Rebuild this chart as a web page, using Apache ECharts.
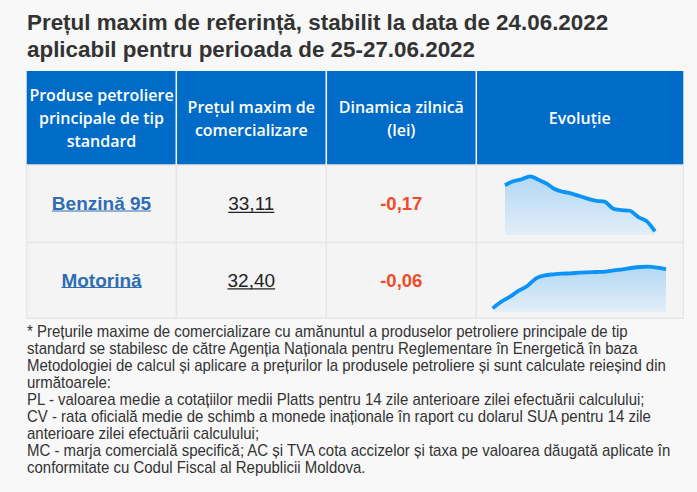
<!DOCTYPE html>
<html><head><meta charset="utf-8">
<script src="https://cdn.jsdelivr.net/npm/echarts@6/dist/echarts.min.js"></script>
<style>html,body{margin:0;padding:0;background:#f8f8f8}#c{width:697px;height:492px}</style>
</head><body><div id="c"></div><script>
// ---- data ----
const titleLines = ['Prețul maxim de referință, stabilit la data de 24.06.2022', 'aplicabil pentru perioada de 25-27.06.2022'];
const headerCols = [
  ['Produse petroliere', 'principale de tip', 'standard'],
  ['Prețul maxim de', 'comercializare'],
  ['Dinamica zilnică', '(lei)'],
  ['Evoluție']
];
const products = ['Benzină 95', 'Motorină'];
const prices = ['33,11', '32,40'];
const dynamics = ['-0,17', '-0,06'];
const benzinaDays = ['d1','d2','d3','d4','d5','d6','d7','d8','d9','d10','d11','d12','d13','d14','d15','d16','d17','d18','d19'];
const benzinaValues = [34.50,34.62,34.68,34.77,34.67,34.55,34.38,34.30,34.25,34.17,34.09,34.03,34.00,33.79,33.75,33.73,33.54,33.42,33.11];
const motorinaDays = ['d1','d2','d3','d4','d5','d6','d7','d8','d9','d10','d11','d12','d13','d14','d15','d16','d17','d18','d19','d20','d21'];
const motorinaValues = [31.22,31.42,31.57,31.75,31.89,32.12,32.21,32.24,32.26,32.27,32.29,32.30,32.31,32.32,32.36,32.39,32.43,32.46,32.47,32.44,32.40];
const footnoteLines = [
  '* Prețurile maxime de comercializare cu amănuntul a produselor petroliere principale de tip',
  'standard se stabilesc de către Agenția Naționala pentru Reglementare în Energetică în baza',
  'Metodologiei de calcul și aplicare a prețurilor la produsele petroliere și sunt calculate reieșind din',
  'următoarele:',
  'PL - valoarea medie a cotațiilor medii Platts pentru 14 zile anterioare zilei efectuării calculului;',
  'CV - rata oficială medie de schimb a monede inaționale în raport cu dolarul SUA pentru 14 zile',
  'anterioare zilei efectuării calculului;',
  'MC - marja comercială specifică; AC și TVA cota accizelor și taxa pe valoarea dăugată aplicate în',
  'conformitate cu Codul Fiscal al Republicii Moldova.'
];

// ---- layout ----
const SANS = '"Liberation Sans", Arial, sans-serif';
const OPEN = '"Open Sans", sans-serif';
const tL = 26.7, tR = 683.3, hTop = 71, hBot = 165, rowDiv = 242.5, tBot = 318.3;
const colX = [tL, 176.3, 326.3, 476.3, tR];
const colC = [0,1,2,3].map(i => (colX[i] + colX[i+1]) / 2);
const rowC = [203.5, 280];

const mctx = document.createElement('canvas').getContext('2d');
function textW(t, font) { mctx.font = font; return mctx.measureText(t).width; }

const g = [];
g.push({type:'rect', z:0, shape:{x:0,y:0,width:697,height:492}, style:{fill:'#f8f8f8'}});
titleLines.forEach((t, i) => g.push({type:'text', z:5, style:{text:t, x:27, y:22 + i*27, font:'bold 22.4px ' + SANS, fill:'#333333', verticalAlign:'middle'}}));
// header
g.push({type:'rect', z:0, shape:{x:tL, y:hTop, width:tR-tL, height:hBot-hTop}, style:{fill:'#006cc8'}});
// body
g.push({type:'rect', z:0, shape:{x:tL, y:hBot, width:tR-tL, height:tBot-hBot}, style:{fill:'#f4f4f4', stroke:'#e6e6e6', lineWidth:1.5}});
g.push({type:'line', z:1, shape:{x1:tL, y1:rowDiv, x2:tR, y2:rowDiv}, style:{stroke:'#e6e6e6', lineWidth:1.5}});
[1,2,3].forEach(i => {
  g.push({type:'line', z:1, shape:{x1:colX[i], y1:hTop, x2:colX[i], y2:hBot}, style:{stroke:'#ffffff', lineWidth:1.5}});
  g.push({type:'line', z:1, shape:{x1:colX[i], y1:hBot, x2:colX[i], y2:tBot}, style:{stroke:'#e6e6e6', lineWidth:1.5}});
});
const hMid = 118, hLH = 23;
headerCols.forEach((lines, c) => {
  const y0 = hMid - (lines.length - 1) * hLH / 2;
  lines.forEach((t, k) => g.push({type:'text', z:5, style:{text:t, x:colC[c], y:y0 + k*hLH, font:'600 16px ' + OPEN, fill:'#ffffff', align:'center', verticalAlign:'middle'}}));
});
function underlined(t, x, y, font, color, uy) {
  const w = textW(t, font);
  g.push({type:'text', z:5, style:{text:t, x:x, y:y, font:font, fill:color, align:'center', verticalAlign:'middle'}});
  g.push({type:'line', z:5, shape:{x1:x - w/2, y1:uy, x2:x + w/2, y2:uy}, style:{stroke:color, lineWidth:1.2}});
}
products.forEach((p, r) => underlined(p, colC[0], rowC[r], 'bold 19px ' + SANS, '#2f6db5', rowC[r] + 7.5));
prices.forEach((p, r) => underlined(p, colC[1], rowC[r], '19px ' + SANS, '#222222', rowC[r] + 8.8));
dynamics.forEach((d, r) => g.push({type:'text', z:5, style:{text:d, x:colC[2], y:rowC[r], font:'bold 18.5px ' + SANS, fill:'#f04a26', align:'center', verticalAlign:'middle'}}));
footnoteLines.forEach((t, i) => g.push({type:'text', z:5, x:27, y:331 + i*17.1, scaleX:0.936, style:{text:t, x:0, y:0, font:'16px ' + SANS, fill:'#333333', verticalAlign:'middle'}}));

const area = {color:{type:'linear', x:0, y:0, x2:0, y2:1, colorStops:[{offset:0, color:'#96cbf5'},{offset:1, color:'#dbebf9'}]}};
const lineStyle = {color:'#0a94f7', width:3.8};
const chart = echarts.init(document.getElementById('c'), null, {renderer:'svg', width:697, height:492});
chart.setOption({
  animation:false,
  backgroundColor:'transparent',
  graphic:{elements:g},
  grid:[
    {left:505, top:172, width:150, height:63},
    {left:492.7, top:262, width:173.3, height:49.7}
  ],
  xAxis:[
    {type:'category', gridIndex:0, data:benzinaDays, boundaryGap:false, show:false},
    {type:'category', gridIndex:1, data:motorinaDays, boundaryGap:false, show:false}
  ],
  yAxis:[
    {type:'value', gridIndex:0, min:33.0, max:34.9, show:false, splitLine:{show:false}},
    {type:'value', gridIndex:1, min:31.12, max:32.61, show:false, splitLine:{show:false}}
  ],
  series:[
    {type:'line', xAxisIndex:0, yAxisIndex:0, data:benzinaValues, smooth:0.3, symbol:'none', lineStyle:lineStyle, areaStyle:area, z:10},
    {type:'line', xAxisIndex:1, yAxisIndex:1, data:motorinaValues, smooth:0.3, symbol:'none', lineStyle:lineStyle, areaStyle:area, z:10}
  ]
});
</script></body></html>
